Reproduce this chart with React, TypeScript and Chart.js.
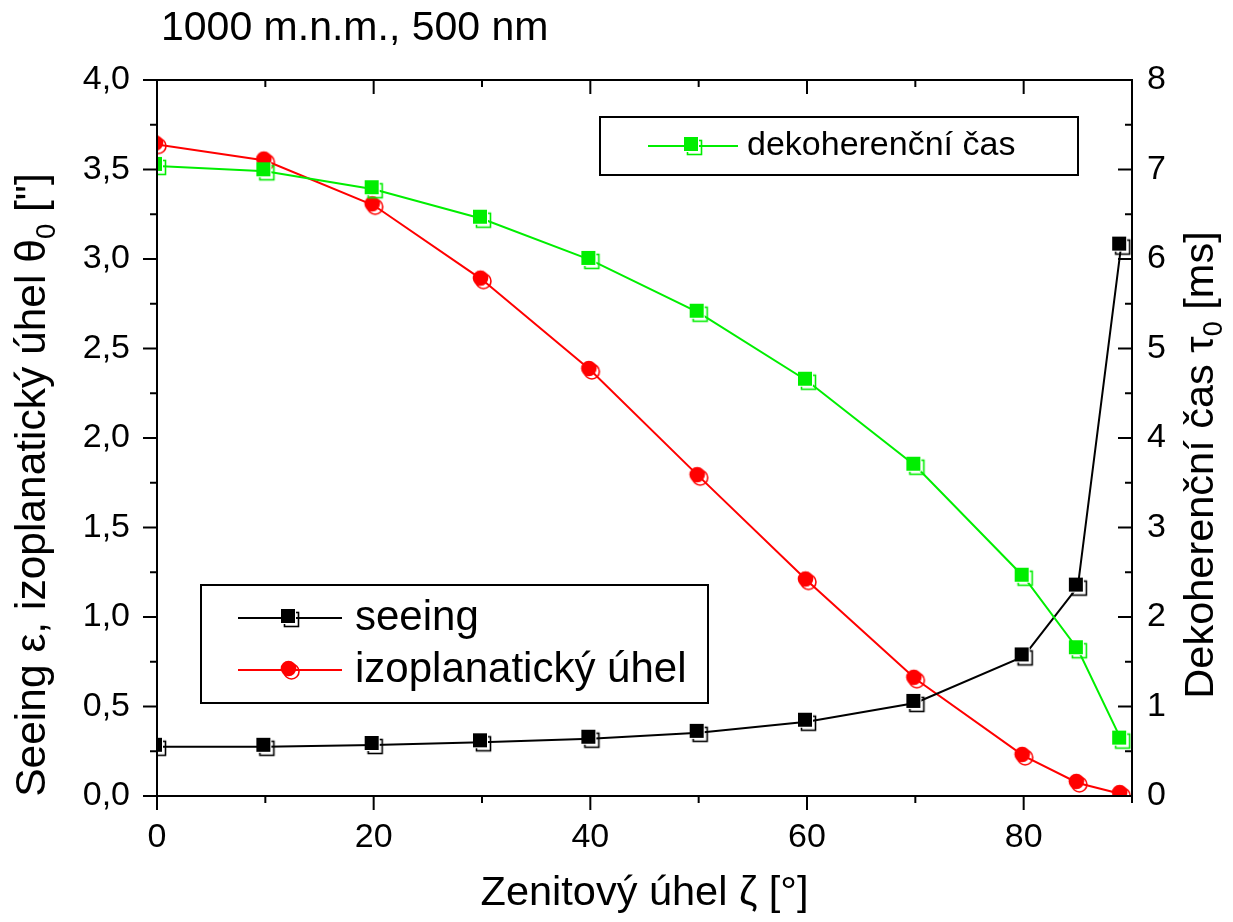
import React, { useEffect, useRef } from "react";
import { Chart, registerables } from "chart.js";

Chart.register(...registerables);

const zenithAngles = [0, 10, 20, 30, 40, 50, 60, 70, 80, 85, 89];
const seeing = [0.275, 0.275, 0.285, 0.3, 0.32, 0.353, 0.415, 0.52, 0.78, 1.17, 3.075];
const isoplanaticAngle = [3.64, 3.55, 3.3, 2.885, 2.38, 1.787, 1.204, 0.655, 0.224, 0.073, 0.011];
const coherenceTime = [7.04, 6.98, 6.78, 6.45, 5.99, 5.4, 4.64, 3.69, 2.45, 1.64, 0.63];

const xMajorTicks = [0, 20, 40, 60, 80];
const xMinorTicks = [10, 30, 50, 70, 90];
const leftMajorTicks = [0, 0.5, 1, 1.5, 2, 2.5, 3, 3.5, 4];
const leftMinorTicks = [0.25, 0.75, 1.25, 1.75, 2.25, 2.75, 3.25, 3.75];
const rightMajorTicks = [0, 1, 2, 3, 4, 5, 6, 7, 8];
const rightMinorTicks = [0.5, 1.5, 2.5, 3.5, 4.5, 5.5, 6.5, 7.5];

const chartTitle = "1000 m.n.m., 500 nm";
const seriesNames = ["seeing", "izoplanatický úhel", "dekoherenční čas"];

const FONT = "'Liberation Sans', Arial, sans-serif";
const BLACK = "#000000";
const RED = "#ff0000";
const GREEN = "#00ee00";

function makeMarker(shape: string, color: string) {
  const c = document.createElement("canvas");
  c.width = 22;
  c.height = 22;
  const g = c.getContext("2d")!;
  g.lineWidth = 1.6;
  g.strokeStyle = color;
  if (shape === "square") {
    g.strokeRect(5.5, 5.5, 14, 14);
    g.fillStyle = color;
    g.fillRect(2, 2, 14, 14);
    g.strokeStyle = "#ffffff";
    g.lineWidth = 1;
    g.beginPath();
    g.moveTo(16.5, 2);
    g.lineTo(16.5, 16.5);
    g.lineTo(2, 16.5);
    g.stroke();
  } else {
    g.beginPath();
    g.arc(12.5, 12.5, 7.5, 0, Math.PI * 2);
    g.stroke();
    g.fillStyle = color;
    g.beginPath();
    g.arc(9.5, 9.5, 7.8, 0, Math.PI * 2);
    g.fill();
  }
  return c;
}

function drawRich(ctx: CanvasRenderingContext2D, parts: { t: string; sub?: boolean }[], size: number, cx: number, cy: number, rot: number) {
  ctx.save();
  ctx.translate(cx, cy);
  ctx.rotate(rot);
  ctx.fillStyle = BLACK;
  ctx.textBaseline = "alphabetic";
  ctx.textAlign = "left";
  let w = 0;
  const widths = parts.map((p) => {
    ctx.font = `${p.sub ? size * 0.65 : size}px ${FONT}`;
    const m = ctx.measureText(p.t).width;
    w += m;
    return m;
  });
  let x = -w / 2;
  const base = size * 0.36;
  parts.forEach((p, i) => {
    ctx.font = `${p.sub ? size * 0.65 : size}px ${FONT}`;
    ctx.fillText(p.t, x, p.sub ? base + size * 0.22 : base);
    x += widths[i];
  });
  ctx.restore();
}

export default function App() {
  const ref = useRef<HTMLCanvasElement | null>(null);

  useEffect(() => {
    if (!ref.current) return;
    const mSeeing = makeMarker("square", BLACK);
    const mIso = makeMarker("circle", RED);
    const mCoh = makeMarker("square", GREEN);

    const framePlugin = {
      id: "frame",
      afterDraw(chart: any) {
        const ctx = chart.ctx as CanvasRenderingContext2D;
        const a = chart.chartArea;
        const sx = chart.scales.x;
        const sy = chart.scales.y;
        const sy2 = chart.scales.y2;
        ctx.save();
        ctx.strokeStyle = BLACK;
        ctx.lineWidth = 2;
        ctx.strokeRect(a.left, a.top, a.right - a.left, a.bottom - a.top);
        const line = (x1: number, y1: number, x2: number, y2: number) => {
          ctx.beginPath();
          ctx.moveTo(x1, y1);
          ctx.lineTo(x2, y2);
          ctx.stroke();
        };
        const MAJ = 14;
        const MIN = 7;
        xMajorTicks.forEach((v) => {
          const p = sx.getPixelForValue(v);
          line(p, a.bottom, p, a.bottom + MAJ);
          line(p, a.top, p, a.top + MAJ);
        });
        xMinorTicks.forEach((v) => {
          const p = sx.getPixelForValue(v);
          line(p, a.bottom, p, a.bottom + MIN);
          line(p, a.top, p, a.top + MIN);
        });
        leftMajorTicks.forEach((v) => {
          const p = sy.getPixelForValue(v);
          line(a.left - MAJ, p, a.left, p);
        });
        leftMinorTicks.forEach((v) => {
          const p = sy.getPixelForValue(v);
          line(a.left - MIN, p, a.left, p);
        });
        rightMajorTicks.forEach((v) => {
          const p = sy2.getPixelForValue(v);
          line(a.right - MAJ, p, a.right, p);
        });
        rightMinorTicks.forEach((v) => {
          const p = sy2.getPixelForValue(v);
          line(a.right - MIN, p, a.right, p);
        });

        // titles
        ctx.fillStyle = BLACK;
        ctx.font = `41px ${FONT}`;
        ctx.textAlign = "left";
        ctx.textBaseline = "alphabetic";
        ctx.fillText(chartTitle, 161, 40);

        drawRich(ctx, [{ t: "Zenitový úhel ζ [°]" }], 41.5, (a.left + a.right) / 2, 890, 0);
        drawRich(
          ctx,
          [{ t: "Seeing ε, izoplanatický úhel θ" }, { t: "0", sub: true }, { t: " [\"]" }],
          42.5,
          30,
          485,
          -Math.PI / 2
        );
        drawRich(
          ctx,
          [{ t: "Dekoherenční čas τ" }, { t: "0", sub: true }, { t: " [ms]" }],
          41.5,
          1198,
          465,
          -Math.PI / 2
        );

        // legends
        const ds = chart.data.datasets;
        const legendRow = (i: number, x1: number, x2: number, y: number, tx: number, size: number) => {
          ctx.strokeStyle = ds[i].borderColor;
          ctx.lineWidth = 2;
          line(x1, y, x2, y);
          const img = ds[i].pointStyle as HTMLCanvasElement;
          ctx.drawImage(img, (x1 + x2) / 2 - img.width / 2, y - img.height / 2);
          ctx.fillStyle = BLACK;
          ctx.font = `${size}px ${FONT}`;
          ctx.textAlign = "left";
          ctx.textBaseline = "middle";
          ctx.fillText(seriesNames[i], tx, y);
        };
        ctx.strokeStyle = BLACK;
        ctx.lineWidth = 2;
        ctx.strokeRect(600, 117, 478, 58);
        legendRow(2, 648, 738, 146, 747, 34);
        ctx.strokeStyle = BLACK;
        ctx.lineWidth = 2;
        ctx.strokeRect(201, 585, 507, 118);
        legendRow(0, 238, 342, 618, 355, 42);
        legendRow(1, 238, 342, 670, 355, 42);
        ctx.restore();
      },
    };

    const chart = new Chart(ref.current, {
      type: "line",
      data: {
        datasets: [
          {
            label: seriesNames[0],
            data: zenithAngles.map((x, i) => ({ x, y: seeing[i] })),
            yAxisID: "y",
            borderColor: BLACK,
            backgroundColor: BLACK,
            borderWidth: 2,
            pointStyle: mSeeing as any,
            pointRadius: 8,
            order: 1,
          },
          {
            label: seriesNames[1],
            data: zenithAngles.map((x, i) => ({ x, y: isoplanaticAngle[i] })),
            yAxisID: "y",
            borderColor: RED,
            backgroundColor: RED,
            borderWidth: 2,
            pointStyle: mIso as any,
            pointRadius: 8,
            order: 2,
          },
          {
            label: seriesNames[2],
            data: zenithAngles.map((x, i) => ({ x, y: coherenceTime[i] })),
            yAxisID: "y2",
            borderColor: GREEN,
            backgroundColor: GREEN,
            borderWidth: 2,
            pointStyle: mCoh as any,
            pointRadius: 8,
            order: 0,
          },
        ],
      },
      options: {
        animation: false,
        responsive: true,
        maintainAspectRatio: false,
        layout: { padding: { top: 80, left: 0, right: 0, bottom: 0 } },
        plugins: { legend: { display: false }, tooltip: { enabled: false } },
        elements: { line: { tension: 0 } },
        scales: {
          x: {
            type: "linear",
            position: "bottom",
            min: 0,
            max: 90,
            grid: { display: false, drawTicks: false },
            border: { display: false },
            afterFit: (s: any) => {
              s.height = 126;
            },
            afterBuildTicks: (s: any) => {
              s.ticks = xMajorTicks.map((v) => ({ value: v }));
            },
            ticks: {
              padding: 21,
              color: BLACK,
              font: { family: FONT, size: 34 },
              maxRotation: 0,
              autoSkip: false,
            },
          },
          y: {
            type: "linear",
            position: "left",
            min: 0,
            max: 4,
            grid: { display: false, drawTicks: false },
            border: { display: false },
            afterFit: (s: any) => {
              s.width = 157;
            },
            afterBuildTicks: (s: any) => {
              s.ticks = leftMajorTicks.map((v) => ({ value: v }));
            },
            ticks: {
              padding: 27,
              color: BLACK,
              font: { family: FONT, size: 34 },
              autoSkip: false,
              callback: (v: any) => Number(v).toFixed(1).replace(".", ","),
            },
          },
          y2: {
            type: "linear",
            position: "right",
            min: 0,
            max: 8,
            grid: { display: false, drawTicks: false },
            border: { display: false },
            afterFit: (s: any) => {
              s.width = 101;
            },
            afterBuildTicks: (s: any) => {
              s.ticks = rightMajorTicks.map((v) => ({ value: v }));
            },
            ticks: {
              padding: 15,
              color: BLACK,
              font: { family: FONT, size: 34 },
              autoSkip: false,
              callback: (v: any) => String(v),
            },
          },
        },
      } as any,
      plugins: [framePlugin],
    });
    return () => chart.destroy();
  }, []);

  return (
    <div style={{ position: "absolute", left: 0, top: 0, width: 1233, height: 922, background: "#fff" }}>
      <canvas ref={ref} />
    </div>
  );
}
